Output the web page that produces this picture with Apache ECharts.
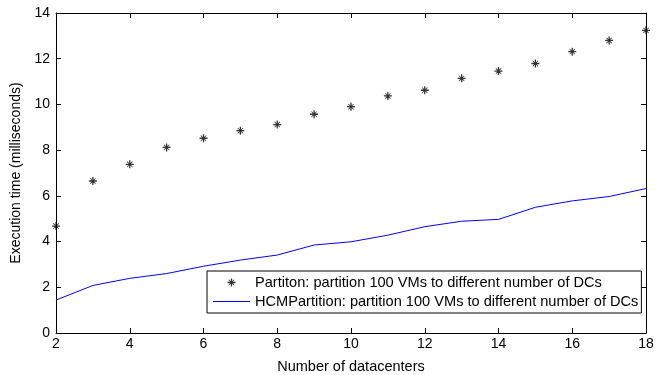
<!DOCTYPE html>
<html><head><meta charset="utf-8">
<script src="https://cdn.jsdelivr.net/npm/echarts@6/dist/echarts.min.js"></script>
<style>html,body{margin:0;padding:0;background:#fff}#c{width:670px;height:375px}</style>
</head><body><div id="c"></div>
<script>
const dcCounts = [2,3,4,5,6,7,8,9,10,11,12,13,14,15,16,17,18];
const partitionTimes = [4.68,6.65,7.38,8.12,8.52,8.85,9.12,9.57,9.9,10.37,10.62,11.14,11.46,11.79,12.31,12.8,13.24];
const hcmTimes = [1.44,2.08,2.39,2.6,2.92,3.19,3.41,3.85,3.99,4.28,4.65,4.89,4.97,5.5,5.78,5.97,6.32];
const seriesNames = ['Partiton: partition 100 VMs to different number of DCs','HCMPartition: partition 100 VMs to different number of DCs'];

const font = 'Liberation Sans, Arial, Helvetica, sans-serif';
const star = 'path://M4.2,0 L5.8,0 L5.8,4.2 L10,4.2 L10,5.8 L5.8,5.8 L5.8,10 L4.2,10 L4.2,5.8 L0,5.8 L0,4.2 L4.2,4.2 Z M2,1.3 L5,4.3 L8,1.3 L8.7,2 L5.7,5 L8.7,8 L8,8.7 L5,5.7 L2,8.7 L1.3,8 L4.3,5 L1.3,2 Z';
const lineIcon = 'path://M0,0 L37,0 L37,1.2 L0,1.2 Z';
const chart = echarts.init(document.getElementById('c'), null, {renderer:'canvas'});
function axisLine(){ return {show:true, onZero:false, lineStyle:{color:'#000', width:1}}; }
function ticks(){ return {show:true, inside:true, length:5, lineStyle:{color:'#000', width:1}}; }
chart.setOption({
  animation:false,
  textStyle:{fontFamily:font},
  grid:{left:56, right:24, top:13, bottom:42, containLabel:false, outerBoundsMode:'none'},
  legend:{
    orient:'vertical', left:207, top:271,
    backgroundColor:'#fff', borderColor:'#000', borderWidth:1, borderRadius:0,
    padding:[4,3,4,6], itemGap:4, itemWidth:37, itemHeight:8,
    textStyle:{fontFamily:font, fontSize:14.6, color:'#000'},
    data:[{name:seriesNames[0], icon:star, itemStyle:{color:'#000'}},
          {name:seriesNames[1], icon:lineIcon, itemStyle:{color:'#0000ff'}}]
  },
  xAxis:[{
    type:'value', min:2, max:18, interval:2, position:'bottom',
    name:'Number of datacenters', nameLocation:'middle', nameGap:26,
    nameTextStyle:{fontFamily:font, fontSize:14.5, color:'#000'},
    axisLine:axisLine(), axisTick:ticks(), splitLine:{show:false},
    axisLabel:{color:'#000', fontSize:14, fontFamily:font, margin:4}
  },{
    type:'value', min:2, max:18, interval:2, position:'top',
    axisLine:axisLine(), axisTick:ticks(), splitLine:{show:false}, axisLabel:{show:false}
  }],
  yAxis:[{
    type:'value', min:0, max:14, interval:2, position:'left',
    name:'Execution time (milliseconds)', nameLocation:'middle', nameGap:28,
    nameTextStyle:{fontFamily:font, fontSize:14, color:'#000'},
    axisLine:axisLine(), axisTick:ticks(), splitLine:{show:false},
    axisLabel:{color:'#000', fontSize:14, fontFamily:font, margin:6}
  },{
    type:'value', min:0, max:14, interval:2, position:'right',
    axisLine:axisLine(), axisTick:ticks(), splitLine:{show:false}, axisLabel:{show:false}
  }],
  series:[{
    name:seriesNames[0], type:'scatter', symbol:star, symbolSize:8,
    itemStyle:{color:'#000'}, clip:false,
    data: dcCounts.map((d,i)=>[d, partitionTimes[i]])
  },{
    name:seriesNames[1], type:'line', showSymbol:false, symbol:'none',
    lineStyle:{color:'#0000ff', width:1}, itemStyle:{color:'#0000ff'},
    data: dcCounts.map((d,i)=>[d, hcmTimes[i]])
  }]
});
</script></body></html>
